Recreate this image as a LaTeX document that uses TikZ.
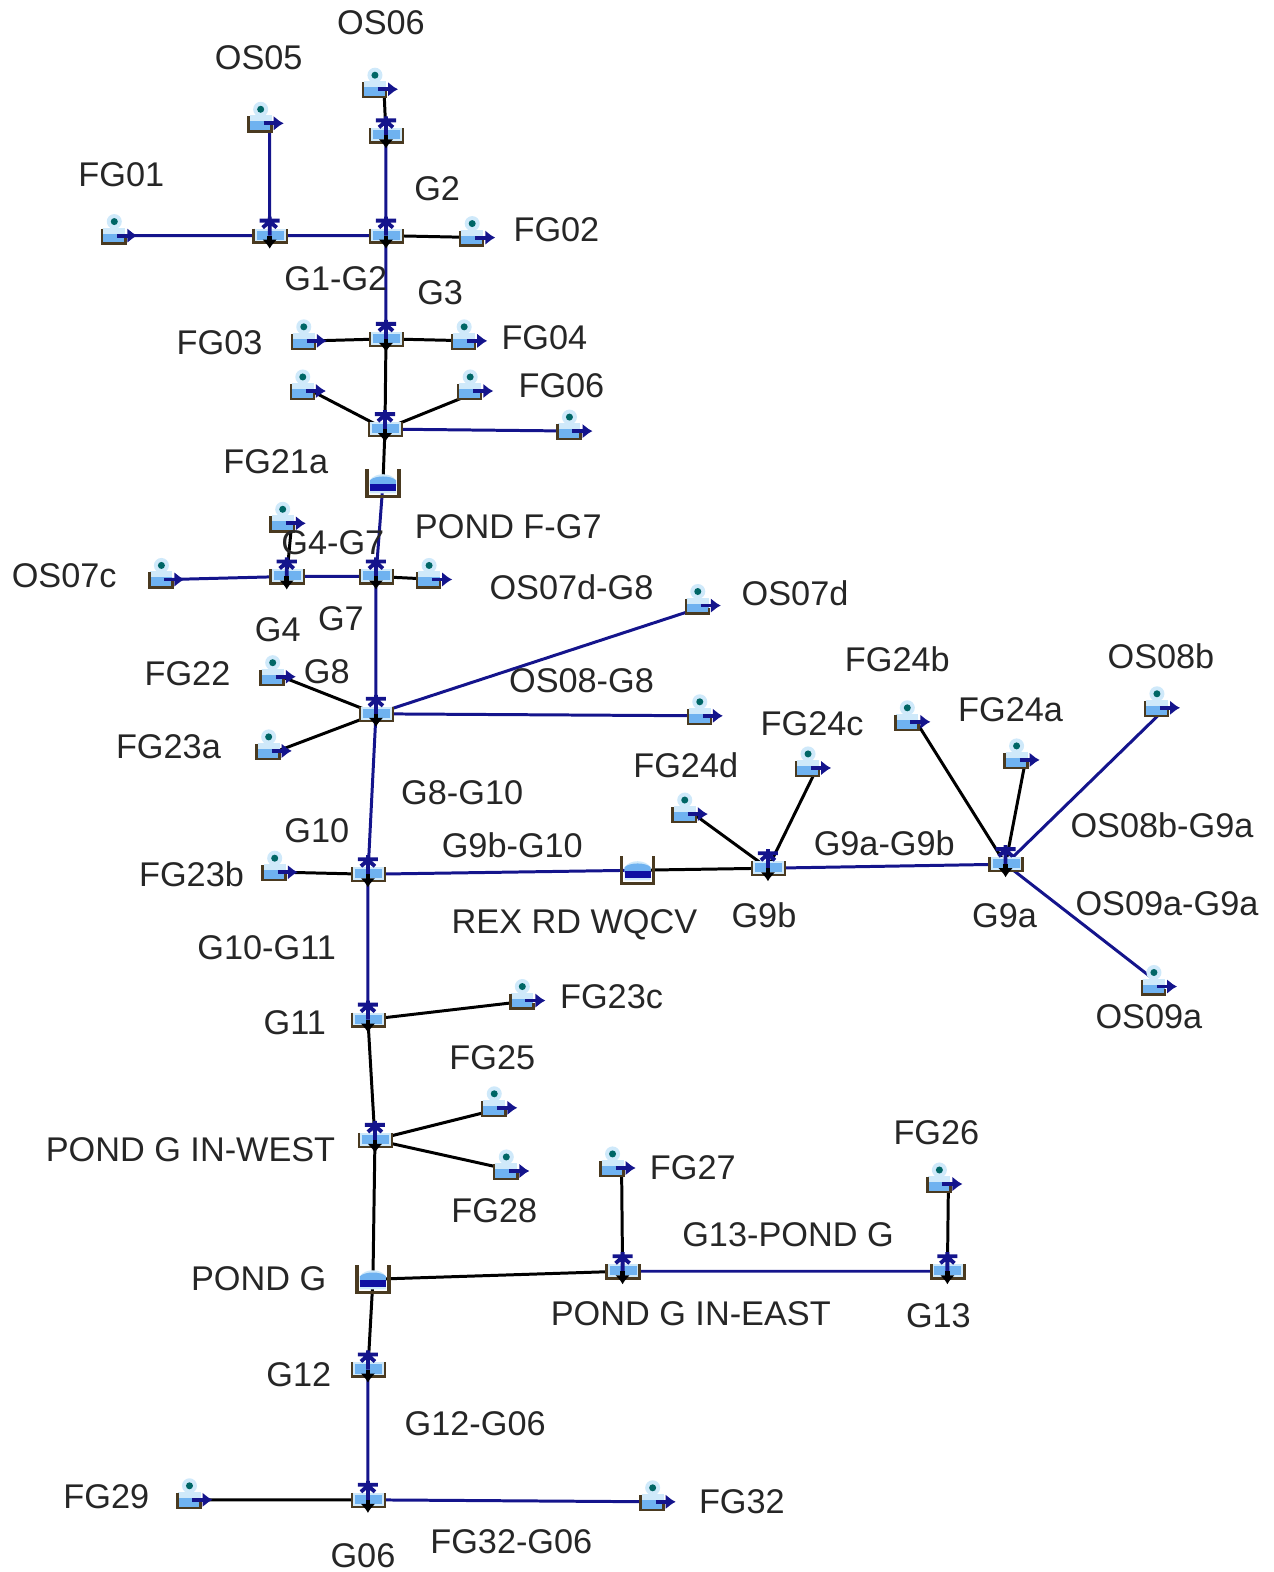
\documentclass[tikz,border=0pt]{standalone}
\usepackage{fontspec}
\setmainfont{Liberation Sans}
\usetikzlibrary{backgrounds,arrows.meta}

\definecolor{navyline}{HTML}{14148C}
\definecolor{iconblue}{HTML}{6FB2F0}
\definecolor{iconpale}{HTML}{CFE9FA}
\definecolor{iconbrown}{HTML}{4A3A20}

\newcommand{\subicon}{
	\fill[iconpale] (-0.09,0.14) circle [radius = 0.075];
	\fill[teal!80!black] (-0.09,0.14) circle [radius = 0.035];
	\fill[iconpale] (-0.2,-0.08) rectangle (0.02,0.08);
	\fill[iconblue] (-0.2,-0.07) rectangle (0.02,0.02);
	\draw[iconbrown, line width = 0.7pt] (-0.21,0.07) -- (-0.21,-0.08) -- (0.02,-0.08) -- (0.02,-0.02);
	\draw[navyline, line width = 1.1pt, -{Latex[length = 0.1cm, width = 0.15cm]}] (-0.06,0) -- (0.14,0);
}
\newcommand{\juncicon}{
	\fill[iconpale] (-0.15,-0.06) rectangle (0.16,0.07);
	\fill[iconblue] (-0.13,-0.04) rectangle (0.14,0.05);
	\draw[iconbrown, line width = 0.7pt] (-0.16,0.07) -- (-0.16,-0.07) -- (0.17,-0.07) -- (0.17,0.07);
	\draw[navyline, line width = 1.1pt] (0,0.19) -- (0,0) (-0.1,0.15) -- (0.1,0.15) (-0.07,0.08) -- (0,0.14) -- (0.07,0.08);
	\draw[black, line width = 1.3pt, -{Latex[length = 0.09cm, width = 0.15cm]}] (0,0) -- (0,-0.13);
}
\newcommand{\pondicon}{
	\fill[iconpale] (-0.13,-0.1) -- (-0.13,0.03) .. controls (-0.08,0.11) and (0.08,0.11) .. (0.13,0.03) -- (0.13,-0.1) -- cycle;
	\fill[iconblue] (-0.13,-0.03) -- (-0.13,0.03) .. controls (-0.08,0.08) and (0.08,0.08) .. (0.13,0.03) -- (0.13,-0.03) -- cycle;
	\fill[navyline!80!blue] (-0.13,-0.01) rectangle (0.13,-0.08);
	\draw[iconbrown, line width = 1pt] (-0.16,0.14) -- (-0.16,-0.13) -- (0.16,-0.13) -- (0.16,0.14);
}

\tikzset{
	subnode/.style = {inner sep = 0, minimum width = 0.8cm, minimum height = 0.8cm,
		path picture = {\begin{scope}[shift = {(path picture bounding box.center)}]\subicon\end{scope}}},
	juncnode/.style = {inner sep = 0, minimum width = 0.8cm, minimum height = 0.8cm,
		path picture = {\begin{scope}[shift = {(path picture bounding box.center)}]\juncicon\end{scope}}},
	pondnode/.style = {inner sep = 0, minimum width = 0.8cm, minimum height = 0.8cm,
		path picture = {\begin{scope}[shift = {(path picture bounding box.center)}]\pondicon\end{scope}}},
	lbl/.style = {inner sep = 0, text = black!85, font = \fontsize{9.75}{11}\selectfont},
	navyedge/.style = {navyline, line width = 0.85pt},
	blackedge/.style = {black, line width = 0.85pt}
}

\begin{document}
\begin{tikzpicture}[x = 1.0024cm, y = 1.0024cm]

\useasboundingbox (0,0) rectangle (12.70,-15.68);

% junctions and ponds
\path (3.85,-1.35) node[juncnode](jOS06) {}
	  (2.69,-2.35) node[juncnode](jG1) {}
	  (3.85,-2.35) node[juncnode](jG2) {}
	  (3.85,-3.38) node[juncnode](jG3) {}
	  (3.84,-4.28) node[juncnode](jF) {}
	  (3.82,-4.82) node[pondnode](pondF) {}
	  (2.86,-5.75) node[juncnode](jG4) {}
	  (3.75,-5.75) node[juncnode](jG7) {}
	  (3.75,-7.12) node[juncnode](jG8) {}
	  (3.67,-8.72) node[juncnode](jG10) {}
	  (6.36,-8.68) node[pondnode](pondRex) {}
	  (7.66,-8.66) node[juncnode](jG9b) {}
	  (10.03,-8.62) node[juncnode](jG9a) {}
	  (3.67,-10.17) node[juncnode](jG11) {}
	  (3.74,-11.37) node[juncnode](jWest) {}
	  (3.72,-12.76) node[pondnode](pondG) {}
	  (6.21,-12.68) node[juncnode](jEast) {}
	  (9.45,-12.68) node[juncnode](jG13) {}
	  (3.67,-13.66) node[juncnode](jG12) {}
	  (3.67,-14.96) node[juncnode](jG06) {}
	  ;
% subbasins
\path (3.83,-0.89) node[subnode](sOS06) {}
	  (2.69,-1.23) node[subnode](sOS05) {}
	  (1.23,-2.35) node[subnode](sFG01) {}
	  (4.80,-2.37) node[subnode](sFG02) {}
	  (3.12,-3.40) node[subnode](sFG03) {}
	  (4.72,-3.40) node[subnode](sFG04) {}
	  (3.11,-3.90) node[subnode](sFanL) {}
	  (4.78,-3.90) node[subnode](sFG06) {}
	  (5.77,-4.30) node[subnode](sFanR) {}
	  (2.91,-5.22) node[subnode](sG4) {}
	  (1.70,-5.78) node[subnode](sOS07c) {}
	  (4.37,-5.78) node[subnode](sG7) {}
	  (7.05,-6.04) node[subnode](sOS07d) {}
	  (7.07,-7.14) node[subnode](sOS08) {}
	  (2.81,-6.75) node[subnode](sFG22) {}
	  (2.77,-7.49) node[subnode](sFG23a) {}
	  (2.83,-8.70) node[subnode](sFG23b) {}
	  (6.92,-8.12) node[subnode](sFG24d) {}
	  (8.15,-7.66) node[subnode](sFG24c) {}
	  (9.14,-7.20) node[subnode](sFG24b) {}
	  (10.23,-7.58) node[subnode](sFG24a) {}
	  (11.63,-7.06) node[subnode](sOS08b) {}
	  (11.60,-9.84) node[subnode](sOS09a) {}
	  (5.30,-9.98) node[subnode](sFG23c) {}
	  (5.02,-11.05) node[subnode](sFG25) {}
	  (5.14,-11.68) node[subnode](sFG28) {}
	  (6.20,-11.65) node[subnode](sFG27) {}
	  (9.46,-11.81) node[subnode](sFG26) {}
	  (1.98,-14.96) node[subnode](sFG29) {}
	  (6.60,-14.98) node[subnode](sFG32) {}
	  ;
% connectors go under the icons
\begin{scope}[on background layer]
\draw[navyedge] (sFG01.center) to (jG1.center)
	  (jG1.center) to (jG2.center)
	  (sOS05.center) to (jG1.center)
	  (jOS06.center) to (jG2.center)
	  (jG2.center) to (jG3.center)
	  (jF.center) to (sFanR.center)
	  (pondF.center) to (jG7.center)
	  (sOS07c.center) to (jG4.center)
	  (jG4.center) to (jG7.center)
	  (jG7.center) to (jG8.center)
	  (jG8.center) to (sOS07d.center)
	  (jG8.center) to (sOS08.center)
	  (jG8.center) to (jG10.center)
	  (jG10.center) to (pondRex.center)
	  (jG9b.center) to (jG9a.center)
	  (jG9a.center) to (sOS08b.center)
	  (jG9a.center) to (sOS09a.center)
	  (jG10.center) to (jG11.center)
	  (jEast.center) to (jG13.center)
	  (jG12.center) to (jG06.center)
	  (jG06.center) to (sFG32.center)
	  ;
\draw[blackedge] (sOS06.center) to (jOS06.center)
	  (jG2.center) to (sFG02.center)
	  (sFG03.center) to (jG3.center)
	  (jG3.center) to (sFG04.center)
	  (jG3.center) to (jF.center)
	  (sFanL.center) to (jF.center)
	  (jF.center) to (sFG06.center)
	  (jF.center) to (pondF.center)
	  (sG4.center) to (jG4.center)
	  (jG7.center) to (sG7.center)
	  (sFG22.center) to (jG8.center)
	  (sFG23a.center) to (jG8.center)
	  (sFG23b.center) to (jG10.center)
	  (pondRex.center) to (jG9b.center)
	  (sFG24d.center) to (jG9b.center)
	  (sFG24c.center) to (jG9b.center)
	  (sFG24b.center) to (jG9a.center)
	  (sFG24a.center) to (jG9a.center)
	  (jG11.center) to (sFG23c.center)
	  (jG11.center) to (jWest.center)
	  (jWest.center) to (sFG25.center)
	  (jWest.center) to (sFG28.center)
	  (jWest.center) to (pondG.center)
	  (pondG.center) to (jEast.center)
	  (sFG27.center) to (jEast.center)
	  (sFG26.center) to (jG13.center)
	  (pondG.center) to (jG12.center)
	  (sFG29.center) to (jG06.center)
	  ;
\end{scope}
% labels
\path (3.80,-0.23) node[lbl](lOS06) {OS06}
	  (2.58,-0.58) node[lbl](lOS05) {OS05}
	  (1.21,-1.74) node[lbl](lFG01) {FG01}
	  (4.36,-1.88) node[lbl](lG2) {G2}
	  (5.55,-2.29) node[lbl](lFG02) {FG02}
	  (3.35,-2.78) node[lbl](lG1G2) {G1-G2}
	  (4.39,-2.92) node[lbl](lG3) {G3}
	  (2.19,-3.42) node[lbl](lFG03) {FG03}
	  (5.43,-3.37) node[lbl](lFG04) {FG04}
	  (5.60,-3.85) node[lbl](lFG06) {FG06}
	  (2.75,-4.61) node[lbl](lFG21a) {FG21a}
	  (5.07,-5.25) node[lbl](lPondF) {POND F-G7}
	  (3.32,-5.41) node[lbl](lG4G7) {G4-G7}
	  (0.64,-5.74) node[lbl](lOS07c) {OS07c}
	  (5.70,-5.86) node[lbl](lOS07dG8) {OS07d-G8}
	  (7.93,-5.92) node[lbl](lOS07d) {OS07d}
	  (2.77,-6.28) node[lbl](lG4) {G4}
	  (3.40,-6.17) node[lbl](lG7) {G7}
	  (8.95,-6.58) node[lbl](lFG24b) {FG24b}
	  (11.58,-6.55) node[lbl](lOS08b) {OS08b}
	  (1.87,-6.72) node[lbl](lFG22) {FG22}
	  (3.26,-6.70) node[lbl](lG8) {G8}
	  (5.80,-6.79) node[lbl](lOS08G8) {OS08-G8}
	  (10.08,-7.08) node[lbl](lFG24a) {FG24a}
	  (8.10,-7.22) node[lbl](lFG24c) {FG24c}
	  (1.68,-7.45) node[lbl](lFG23a) {FG23a}
	  (6.84,-7.63) node[lbl](lFG24d) {FG24d}
	  (4.61,-7.91) node[lbl](lG8G10) {G8-G10}
	  (11.59,-8.23) node[lbl](lOS08bG9a) {OS08b-G9a}
	  (3.16,-8.29) node[lbl](lG10) {G10}
	  (5.11,-8.43) node[lbl](lG9bG10) {G9b-G10}
	  (8.82,-8.41) node[lbl](lG9aG9b) {G9a-G9b}
	  (1.91,-8.72) node[lbl](lFG23b) {FG23b}
	  (11.64,-9.01) node[lbl](lOS09aG9a) {OS09a-G9a}
	  (7.62,-9.13) node[lbl](lG9b) {G9b}
	  (10.02,-9.13) node[lbl](lG9a) {G9a}
	  (5.73,-9.22) node[lbl](lRex) {REX RD WQCV}
	  (2.66,-9.45) node[lbl](lG10G11) {G10-G11}
	  (6.10,-9.94) node[lbl](lFG23c) {FG23c}
	  (2.94,-10.20) node[lbl](lG11) {G11}
	  (11.46,-10.14) node[lbl](lOS09a) {OS09a}
	  (4.91,-10.55) node[lbl](lFG25) {FG25}
	  (1.90,-11.47) node[lbl](lWest) {POND G IN-WEST}
	  (9.34,-11.30) node[lbl](lFG26) {FG26}
	  (6.91,-11.65) node[lbl](lFG27) {FG27}
	  (4.93,-12.08) node[lbl](lFG28) {FG28}
	  (7.86,-12.32) node[lbl](lG13Pond) {G13-POND G}
	  (2.58,-12.75) node[lbl](lPondG) {POND G}
	  (6.89,-13.10) node[lbl](lEast) {POND G IN-EAST}
	  (9.36,-13.12) node[lbl](lG13) {G13}
	  (2.98,-13.71) node[lbl](lG12) {G12}
	  (4.74,-14.20) node[lbl](lG12G06) {G12-G06}
	  (1.06,-14.93) node[lbl](lFG29) {FG29}
	  (7.40,-14.98) node[lbl](lFG32) {FG32}
	  (5.10,-15.38) node[lbl](lFG32G06) {FG32-G06}
	  (3.62,-15.52) node[lbl](lG06) {G06}
	  ;
\end{tikzpicture}
\end{document}
